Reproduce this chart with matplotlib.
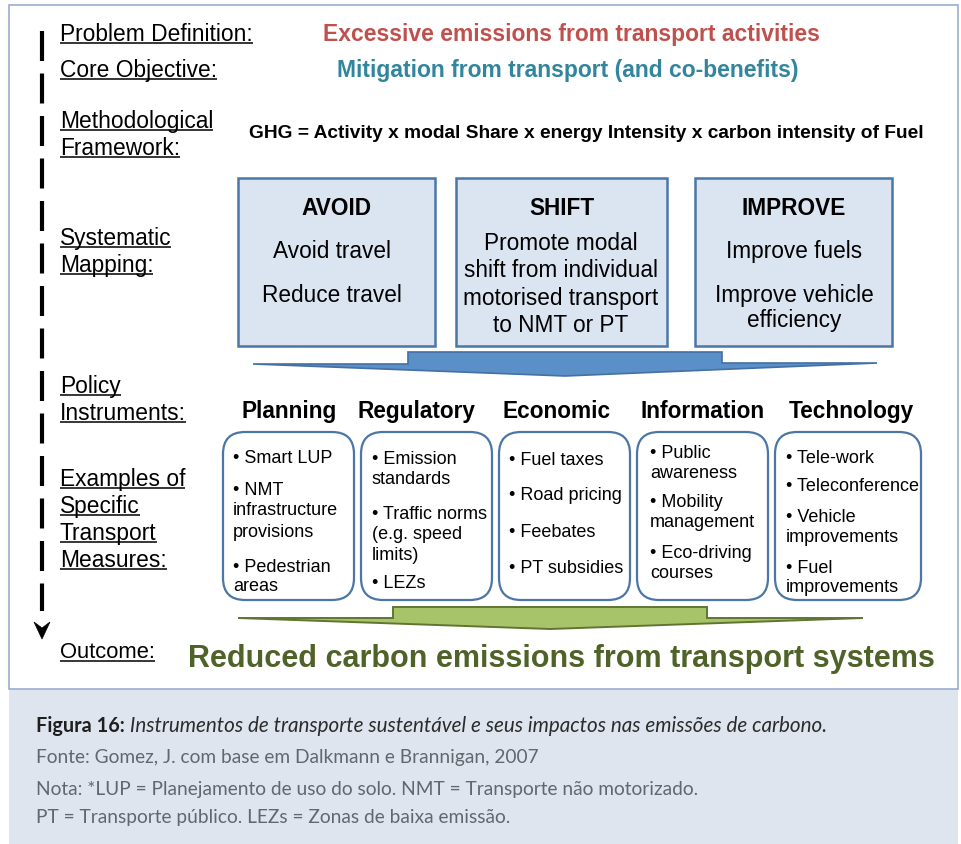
import matplotlib
matplotlib.use("Agg")
import matplotlib.pyplot as plt
from matplotlib.patches import Rectangle, FancyBboxPatch, Polygon

plt.rcParams['lines.scale_dashes'] = False

# ---- content ----
side_labels = [["Problem Definition:"], ["Core Objective:"],
               ["Methodological", "Framework:"], ["Systematic", "Mapping:"],
               ["Policy", "Instruments:"],
               ["Examples of", "Specific", "Transport", "Measures:"]]
side_baselines = [[41], [77], [128, 155], [245, 272], [393, 420], [486, 513, 540, 567]]
outcome_label = "Outcome:"

problem_text = "Excessive emissions from transport activities"
objective_text = "Mitigation from transport (and co-benefits)"
framework_text = "GHG = Activity x modal Share x energy Intensity x carbon intensity of Fuel"
outcome_text = "Reduced carbon emissions from transport systems"

strategy_titles = ["AVOID", "SHIFT", "IMPROVE"]
strategy_lines = [["Avoid travel", "Reduce travel"],
                  ["Promote modal", "shift from individual", "motorised transport", "to NMT or PT"],
                  ["Improve fuels", "Improve vehicle", "efficiency"]]
strategy_baselines = [[258, 302], [250, 277, 305, 332], [258, 302, 327]]

instruments = ["Planning", "Regulatory", "Economic", "Information", "Technology"]
measures = [["• Smart LUP", "• NMT", "infrastructure", "provisions", "• Pedestrian", "areas"],
            ["• Emission", "standards", "• Traffic norms", "(e.g. speed", "limits)", "• LEZs"],
            ["• Fuel taxes", "• Road pricing", "• Feebates", "• PT subsidies"],
            ["• Public", "awareness", "• Mobility", "management", "• Eco-driving", "courses"],
            ["• Tele-work", "• Teleconference", "• Vehicle", "improvements", "• Fuel", "improvements"]]
measure_baselines = [[463, 495, 515, 537, 572, 591],
                     [464, 484, 519, 539, 560, 588],
                     [465, 500, 537, 573],
                     [458, 478, 507, 527, 558, 578],
                     [463, 491, 522, 542, 573, 592]]

caption_bold = "Figura 16:"
caption_italic = " Instrumentos de transporte sustentável e seus impactos nas emissões de carbono."
caption_lines = ["Fonte: Gomez, J. com base em Dalkmann e Brannigan, 2007",
                 "Nota: *LUP = Planejamento de uso do solo. NMT = Transporte não motorizado.",
                 "PT = Transporte público. LEZs = Zonas de baixa emissão."]

# ---- figure in pixel coords ----
W, H = 962, 845
fig = plt.figure(figsize=(W / 100, H / 100), dpi=100)
ax = fig.add_axes([0, 0, 1, 1])
ax.set_xlim(0, W)
ax.set_ylim(H, 0)
ax.axis('off')

SANS = ['Liberation Sans', 'DejaVu Sans']
CAP = ['Lato', 'DejaVu Sans']

# frame and caption panel
ax.add_patch(Rectangle((9, 690), 949, 160, facecolor='#dee5ef', edgecolor='none', zorder=0))
ax.add_patch(Rectangle((9, 6), 949, 684, facecolor='white', edgecolor='#9badd0', lw=1.2, zorder=1))

# dashed timeline with arrowhead
ax.plot([42, 42], [32, 612], color='black', lw=3, dashes=(21.6, 9), solid_capstyle='butt',
        dash_capstyle='butt', zorder=3)
ax.add_patch(Polygon([(34, 623), (42, 640), (50, 623), (42, 629)], closed=True,
                     facecolor='black', edgecolor='black', lw=0.5, zorder=3))

fig.canvas.draw()
renderer = fig.canvas.get_renderer()


def underline(t, y):
    bb = t.get_window_extent(renderer)
    x0, _ = ax.transData.inverted().transform((bb.x0, 0))
    x1, _ = ax.transData.inverted().transform((bb.x1, 0))
    ax.plot([x0, x1], [y, y], color='black', lw=1.1, solid_capstyle='butt', zorder=4)


for lines, bls in zip(side_labels, side_baselines):
    for s, b in zip(lines, bls):
        t = ax.text(60, b, s, fontsize=16.4, family=SANS, va='baseline', ha='left', zorder=4)
        underline(t, b + 3)
t = ax.text(60, 658, outcome_label, fontsize=15.8, family=SANS, va='baseline', ha='left', zorder=4)
underline(t, 662)

ax.text(571, 41, problem_text, fontsize=16.5, family=SANS, weight='bold', color='#c0504d',
        va='baseline', ha='center', zorder=4)
ax.text(568, 77, objective_text, fontsize=16.5, family=SANS, weight='bold', color='#31859c',
        va='baseline', ha='center', zorder=4)
ax.text(586, 138, framework_text, fontsize=13.8, family=SANS, weight='bold', color='black',
        va='baseline', ha='center', zorder=4)

# strategy boxes
box_x = [238, 456, 695]
box_w = [197, 211, 197]
text_cx = [332, 561, 794]
for i in range(3):
    ax.add_patch(Rectangle((box_x[i], 179), box_w[i], 168, facecolor='#dbe5f1',
                           edgecolor='#4b76a6', lw=1.8, zorder=2))
    ax.text(box_x[i] + box_w[i] / 2, 215, strategy_titles[i], fontsize=16.3, family=SANS,
            weight='bold', va='baseline', ha='center', zorder=4)
    for s, b in zip(strategy_lines[i], strategy_baselines[i]):
        ax.text(text_cx[i], b, s, fontsize=16.3, family=SANS, va='baseline', ha='center', zorder=4)

# blue merge arrow
ax.add_patch(Polygon([(253, 365), (408, 365), (408, 353), (722, 353), (722, 364), (877, 364),
                      (565, 377)], closed=True, facecolor='#5b8fc7', edgecolor='#4470a3',
                     lw=1.2, zorder=2))

# instrument headings
head_x = [289, 417, 557, 703, 851]
for s, x in zip(instruments, head_x):
    ax.text(x, 418, s, fontsize=16.3, family=SANS, weight='bold', va='baseline', ha='center', zorder=4)

# measure boxes
m_x = [223, 361, 499, 637, 775]
m_w = [131, 131, 131, 131, 146]
text_dx = [10, 11, 10, 13, 11]
for i in range(5):
    ax.add_patch(FancyBboxPatch((m_x[i], 433), m_w[i], 168,
                                boxstyle="round,pad=0,rounding_size=22",
                                facecolor='white', edgecolor='#4b76a6', lw=1.6, zorder=2))
    for s, b in zip(measures[i], measure_baselines[i]):
        ax.text(m_x[i] + text_dx[i], b, s, fontsize=13, family=SANS, va='baseline',
                ha='left', zorder=4)

# green merge arrow
ax.add_patch(Polygon([(238, 619), (393, 619), (393, 608), (707, 608), (707, 619), (863, 619),
                      (550, 630)], closed=True, facecolor='#a8c46b', edgecolor='#5f7632',
                     lw=1.4, zorder=2))

ax.text(561, 667, outcome_text, fontsize=22, family=SANS, weight='bold', color='#4f6228',
        va='baseline', ha='center', zorder=4)

# caption
t = ax.text(36, 732, caption_bold, fontsize=14.3, family=CAP, weight='bold', color='#1f1f1f',
            va='baseline', ha='left', zorder=4)
bb = t.get_window_extent(renderer)
xr, _ = ax.transData.inverted().transform((bb.x1, 0))
ax.text(xr, 732, caption_italic, fontsize=14.9, family=CAP, style='italic', color='#2b2b2b',
        va='baseline', ha='left', zorder=4)
for s, b in zip(caption_lines, [763, 795, 823]):
    ax.text(36, b, s, fontsize=13.8, family=CAP, color='#5f686e', va='baseline', ha='left', zorder=4)

fig.savefig("out.png", dpi=100)
